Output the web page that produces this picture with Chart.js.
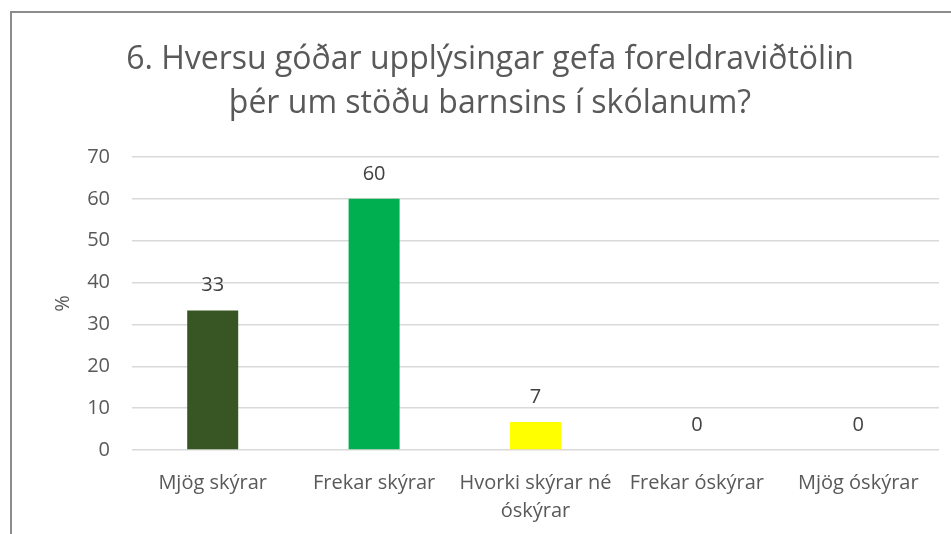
<!DOCTYPE html>
<html>
<head>
<meta charset="utf-8">
<script src="https://cdn.jsdelivr.net/npm/chart.js@4.4.1/dist/chart.umd.min.js"></script>
<style>
    html, body { margin: 0; padding: 0; background: #fff; overflow: hidden; }
    #frame {
        position: absolute; left: 10px; top: 11px; width: 2000px; height: 2000px;
        border-left: 2px solid #8c8c8c; border-top: 2px solid #8c8c8c;
    }
    #wrap { position: absolute; left: 0; top: 0; width: 951px; height: 534px; }
</style>
</head>
<body>
<div id="frame"></div>
<div id="wrap"><canvas id="chart" width="951" height="534"></canvas></div>
<script>
const TITLE_LINES = ['6. Hversu góðar upplýsingar gefa foreldraviðtölin', 'þér um stöðu barnsins í skólanum?'];
const CATEGORIES = ['Mjög skýrar', 'Frekar skýrar', ['Hvorki skýrar né', 'óskýrar'], 'Frekar óskýrar', 'Mjög óskýrar'];
const PERCENTS = [33.3, 60.0, 6.7, 0, 0];
const BAR_COLORS = ['#375623', '#00b050', '#ffff00', '#a5a5a5', '#ffc000'];
const Y_TITLE = '%';

const FONT = 'Open Sans';
const TEXT = '#595959';

// value labels above bars (no datalabels plugin offline)
const barValues = {
    id: 'barValues',
    afterDatasetsDraw(chart) {
        const ctx = chart.ctx;
        const meta = chart.getDatasetMeta(0);
        ctx.save();
        ctx.font = `20px "${FONT}"`;
        ctx.fillStyle = '#404040';
        ctx.textAlign = 'center';
        ctx.textBaseline = 'middle';
        meta.data.forEach((bar, i) => {
            ctx.fillText(String(Math.round(PERCENTS[i])), bar.x, bar.y - 25);
        });
        ctx.restore();
    }
};

new Chart(document.getElementById('chart').getContext('2d'), {
    type: 'bar',
    data: {
        labels: CATEGORIES,
        datasets: [{
            data: PERCENTS,
            backgroundColor: BAR_COLORS,
            categoryPercentage: 1.0,
            barPercentage: 0.316
        }]
    },
    options: {
        responsive: false,
        animation: false,
        layout: { padding: { left: 41, right: 12, top: 0, bottom: 0 } },
        plugins: {
            legend: { display: false },
            tooltip: { enabled: false },
            title: {
                display: true,
                text: TITLE_LINES,
                color: TEXT,
                font: { family: FONT, size: 32, weight: 'normal', lineHeight: 1.375 },
                padding: { top: 38, bottom: 31 }
            }
        },
        scales: {
            x: {
                grid: { display: false },
                border: { display: false },
                ticks: {
                    color: TEXT,
                    font: { family: FONT, size: 20, lineHeight: 1.4 },
                    padding: 11,
                    maxRotation: 0,
                    autoSkip: false
                },
                afterFit: (s) => { s.height = 84; }
            },
            y: {
                min: 0,
                max: 70,
                ticks: {
                    stepSize: 10,
                    color: TEXT,
                    font: { family: FONT, size: 20 },
                    padding: 22
                },
                grid: { color: '#d9d9d9', lineWidth: 1.5, drawTicks: false },
                border: { display: false },
                title: {
                    display: true,
                    text: Y_TITLE,
                    color: TEXT,
                    font: { family: FONT, size: 20 },
                    padding: { top: 10, bottom: 0 }
                },
                afterFit: (s) => { s.width = 91; }
            }
        }
    },
    plugins: [barValues]
});
</script>
</body>
</html>
